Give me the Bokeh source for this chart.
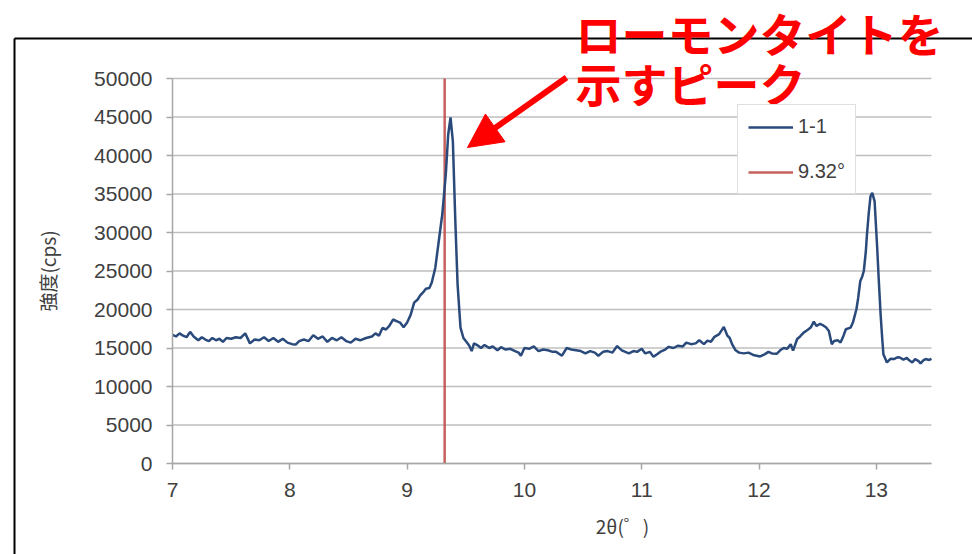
from bokeh.plotting import figure
from bokeh.models import (Arrow, NormalHead, Label, Legend, LegendItem,
                          FixedTicker, Range1d, BasicTickFormatter)
from bokeh.embed import file_html
from bokeh.resources import INLINE

# ---- data ----
two_theta = [
    7.00, 7.03, 7.06, 7.09, 7.12, 7.15, 7.18, 7.22, 7.25, 7.28, 7.31, 7.34, 7.37, 7.40, 7.43, 7.46,
    7.50, 7.54, 7.58, 7.62, 7.66, 7.70, 7.74, 7.78, 7.82, 7.86, 7.90, 7.94, 7.98, 8.02, 8.05, 8.08,
    8.12, 8.16, 8.20, 8.24, 8.28, 8.32, 8.36, 8.40, 8.44, 8.48, 8.52, 8.56, 8.60, 8.65, 8.70, 8.73,
    8.76, 8.79, 8.82, 8.85, 8.88, 8.91, 8.94, 8.97, 9.00, 9.03, 9.06, 9.09, 9.11, 9.14, 9.16, 9.19,
    9.21, 9.24, 9.27, 9.30, 9.33, 9.35, 9.37, 9.39, 9.41, 9.43, 9.455, 9.48, 9.51, 9.53, 9.55, 9.57,
    9.60, 9.63, 9.66, 9.70, 9.73, 9.77, 9.80, 9.84, 9.88, 9.92, 9.95, 9.97, 10.00, 10.04, 10.08, 10.12,
    10.16, 10.20, 10.24, 10.27, 10.32, 10.36, 10.40, 10.44, 10.48, 10.52, 10.56, 10.60, 10.63, 10.67,
    10.71, 10.75, 10.79, 10.83, 10.86, 10.89, 10.93, 10.96, 11.00, 11.03, 11.07, 11.10, 11.14, 11.17,
    11.20, 11.23, 11.27, 11.31, 11.35, 11.38, 11.42, 11.46, 11.49, 11.53, 11.56, 11.59, 11.62, 11.66,
    11.70, 11.73, 11.75, 11.77, 11.80, 11.83, 11.87, 11.91, 11.95, 11.98, 12.01, 12.05, 12.08, 12.11,
    12.15, 12.18, 12.21, 12.24, 12.27, 12.29, 12.325, 12.35, 12.38, 12.41, 12.44, 12.467, 12.49, 12.52,
    12.55, 12.57, 12.595, 12.62, 12.64, 12.67, 12.695, 12.72, 12.74, 12.78, 12.80, 12.83, 12.845, 12.863,
    12.88, 12.893, 12.91, 12.92, 12.935, 12.95, 12.965, 12.985, 13.007, 13.02, 13.036, 13.05, 13.06, 13.09,
    13.12, 13.15, 13.18, 13.20, 13.23, 13.26, 13.28, 13.306, 13.33, 13.36, 13.377, 13.40, 13.42, 13.45, 13.47,
]
intensity = [
    16700, 16500, 16900, 16600, 16400, 17100, 16500, 16000, 16400, 16100, 15900, 16300, 16000, 16200, 15800, 16300,
    16200, 16400, 16300, 16900, 15600, 16100, 16000, 16400, 15900, 16300, 15800, 16200, 15700, 15500, 15450, 15900,
    16100, 15900, 16650, 16200, 16500, 15800, 16300, 16000, 16400, 15900, 15700, 16200, 16000, 16300, 16500, 16900,
    16600, 17600, 17400, 17900, 18700, 18500, 18300, 17700, 18300, 19300, 20900, 21300, 21800, 22300, 22700, 22800,
    23500, 25400, 28900, 32400, 37600, 42700, 44950, 41800, 31900, 23300, 17650, 16300, 15700, 15300, 14600, 15600,
    15350, 15000, 15400, 15000, 15200, 14700, 15100, 14800, 14900, 14600, 14400, 14000, 15000, 14900, 15200, 14600,
    14800, 14700, 14500, 14500, 14000, 15000, 14800, 14700, 14600, 14300, 14600, 14400, 14000, 14500,
    14600, 14400, 15250, 14700, 14500, 14300, 14600, 14500, 14900, 14300, 14500, 13850, 14300, 14600,
    14800, 15150, 15000, 15300, 15200, 15700, 15500, 15600, 16000, 15500, 15950, 15800, 16450, 16800,
    17740, 16600, 16300, 15500, 14700, 14400, 14300, 14400, 14100, 14000, 13900, 14200, 14500, 14300,
    14250, 14700, 15000, 14900, 15500, 14650, 16170, 16500, 17000, 17300, 17650, 18430, 17850, 18150,
    17900, 17700, 17200, 15500, 15900, 16000, 15700, 16600, 17440, 17650, 18300, 20030, 21500, 23700,
    24300, 25000, 27500, 29750, 32500, 34700, 35140, 34050, 28020, 24000, 19400, 16200, 14200, 13120,
    13600, 13560, 13800, 13770, 13500, 13700, 13400, 13120, 13560, 13300, 13000, 13400, 13560, 13450, 13600,
]
marker_x = [9.32, 9.32]
marker_y = [0, 50000]
series_label = "1-1"
marker_label = "9.32°"
x_ticks = [7, 8, 9, 10, 11, 12, 13]
y_ticks = [0, 5000, 10000, 15000, 20000, 25000, 30000, 35000, 40000, 45000, 50000]
x_lo, x_hi = 7, 13.47
y_lo, y_hi = 0, 50000

TICK_FONT = "Liberation Sans"
JP_FONT = "Noto Sans CJK JP"
TXT = "#404040"
GRID = "#bfbfbf"

W, H = 972, 554
# plot area (pixels) of the inner chart: left 172, right 931, top 78, bottom 463
PX_L, PX_R, PX_T, PX_B = 172, 931, 78, 463
sx = (x_hi - x_lo) / (PX_R - PX_L)
sy = (y_hi - y_lo) / (PX_B - PX_T)
xr = Range1d(x_lo - PX_L * sx, x_lo + (W - PX_L) * sx)
yr = Range1d(y_lo - (H - PX_B) * sy, y_hi + PX_T * sy)

p = figure(width=W, height=H, output_backend="svg", toolbar_location=None,
           x_range=xr, y_range=yr)
p.min_border_left = 0
p.min_border_top = 0
p.min_border_right = 0
p.min_border_bottom = 0
p.outline_line_color = None
p.background_fill_color = "white"
p.border_fill_color = "white"
p.xgrid.visible = False
p.ygrid.visible = False

# horizontal grid lines limited to the chart's plot area
p.segment(x0=[x_lo] * len(y_ticks), x1=[x_hi] * len(y_ticks), y0=y_ticks, y1=y_ticks,
          line_color=GRID, line_width=1.5)

# axes placed inside at fixed data locations
p.xaxis.fixed_location = y_lo
p.yaxis.fixed_location = x_lo
p.xaxis.bounds = (x_lo, x_hi)
p.yaxis.bounds = (y_lo, y_hi)
p.xaxis.ticker = FixedTicker(ticks=x_ticks)
p.yaxis.ticker = FixedTicker(ticks=y_ticks)
p.yaxis.formatter = BasicTickFormatter(use_scientific=False)
for ax in (p.xaxis[0], p.yaxis[0]):
    ax.axis_line_color = "#a6a6a6"
    ax.axis_line_width = 1.5
    ax.major_tick_line_color = "#a6a6a6"
    ax.major_tick_line_width = 1.5
    ax.major_tick_out = 6
    ax.major_tick_in = 0
    ax.minor_tick_line_color = None
    ax.major_label_text_font = TICK_FONT
    ax.major_label_text_font_size = "21px"
    ax.major_label_text_color = TXT
p.xaxis.major_label_standoff = 13
p.yaxis.major_label_standoff = 14
p.yaxis.axis_label = "強度(cps)"
p.yaxis.axis_label_text_font = JP_FONT
p.yaxis.axis_label_text_font_size = "19px"
p.yaxis.axis_label_text_font_style = "normal"
p.yaxis.axis_label_text_color = TXT
p.yaxis.axis_label_standoff = 30

# marker line and data
r_mark = p.line(marker_x, marker_y, line_color="#c0504d", line_width=2.5, line_alpha=0.9)
r_data = p.line(two_theta, intensity, line_color="#2a4a7b", line_width=2.5)

legend = Legend(items=[LegendItem(label=series_label, renderers=[r_data]),
                       LegendItem(label=marker_label, renderers=[r_mark])],
                location=(737, H - 104 - 90))
legend.label_text_font = TICK_FONT
legend.label_text_font_size = "20px"
legend.label_text_color = TXT
legend.glyph_width = 45
legend.glyph_height = 20
legend.label_height = 20
legend.label_standoff = 5
legend.spacing = 22
legend.padding = 10
legend.margin = 0
legend.border_line_color = GRID
legend.border_line_width = 1.5
legend.background_fill_color = "white"
legend.background_fill_alpha = 1
p.add_layout(legend)

def dx(px):
    return x_lo + (px - PX_L) * sx

def dy(py):
    return y_lo + (PX_B - py) * sy

# x axis title (off-centre as in the reference)
p.add_layout(Label(x=dx(622), y=dy(525), text="2θ(゜)", text_font=JP_FONT,
                   text_font_size="19px", text_color=TXT,
                   text_align="center", text_baseline="middle"))

# outer chart frame (top & left edges)
p.add_layout(Arrow(end=None, x_start=dx(14), y_start=dy(38), x_end=dx(990), y_end=dy(38),
                   line_color="black", line_width=2))
p.add_layout(Arrow(end=None, x_start=dx(14), y_start=dy(38), x_end=dx(14), y_end=dy(580),
                   line_color="black", line_width=2))

# red annotation
p.add_layout(Label(x=dx(575), y=dy(31), text="ローモンタイトを", text_font=JP_FONT,
                   text_font_size="46px", text_color="red", text_font_style="bold",
                   text_align="left", text_baseline="middle"))
p.add_layout(Label(x=dx(575), y=dy(81), text="示すピーク", text_font=JP_FONT,
                   text_font_size="46px", text_color="red", text_font_style="bold",
                   text_align="left", text_baseline="middle"))
p.add_layout(Arrow(end=NormalHead(size=34, fill_color="red", line_color="red"),
                   x_start=dx(566), y_start=dy(77), x_end=dx(467), y_end=dy(147),
                   line_color="red", line_width=6))

open("out.html", "w").write(file_html(p, INLINE))
